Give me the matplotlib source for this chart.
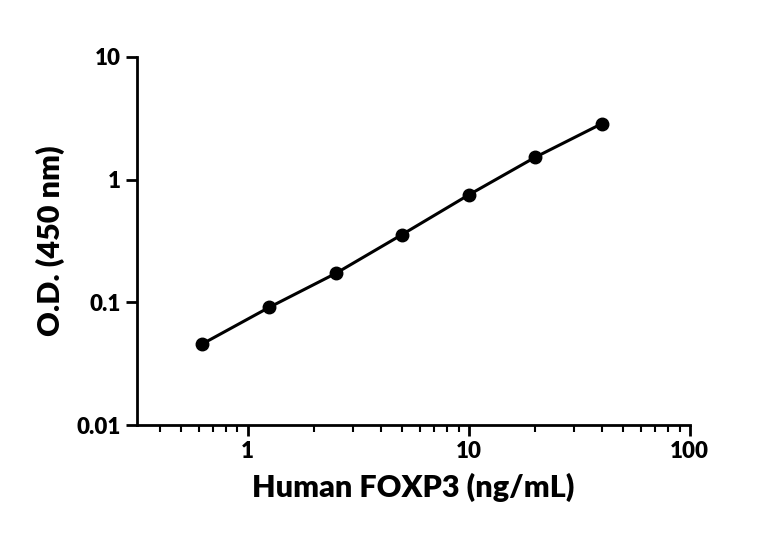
import matplotlib.pyplot as plt

conc = [0.625, 1.25, 2.5, 5, 10, 20, 40]
od = [0.046, 0.091, 0.172, 0.357, 0.75, 1.52, 2.85]

plt.rcParams['font.family'] = ['Lato', 'DejaVu Sans']
fig = plt.figure(figsize=(7.68, 5.41), dpi=100)
ax = fig.add_axes([0.178, 0.214, 0.72, 0.681])

ax.plot(conc, od, color='black', lw=2.2, marker='o', ms=9)
ax.set_xscale('log')
ax.set_yscale('log')
ax.set_xlim(0.315, 100)
ax.set_ylim(0.01, 10)
ax.set_xticks([1, 10, 100])
ax.set_xticklabels(['1', '10', '100'])
ax.set_yticks([0.01, 0.1, 1, 10])
ax.set_yticklabels(['0.01', '0.1', '1', '10'])
ax.yaxis.set_minor_locator(plt.NullLocator())

for s in ['top', 'right']:
    ax.spines[s].set_visible(False)
for s in ['left', 'bottom']:
    ax.spines[s].set_linewidth(2)
ax.tick_params(which='major', width=2, length=8, labelsize=16)
ax.tick_params(which='minor', width=1.5, length=5)
for lab in ax.get_xticklabels() + ax.get_yticklabels():
    lab.set_fontweight('heavy')

ax.set_xlabel('Human FOXP3 (ng/mL)', fontsize=22, fontweight='heavy', labelpad=8)
ax.set_ylabel('O.D. (450 nm)', fontsize=22, fontweight='heavy', labelpad=8)

plt.savefig('out.png')
